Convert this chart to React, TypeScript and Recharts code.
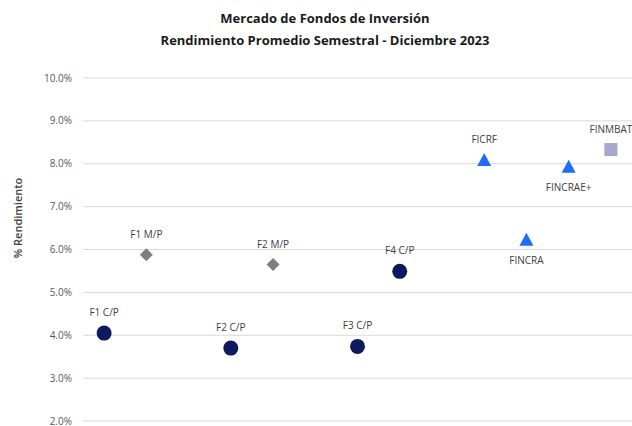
import React from 'react';
import { ScatterChart, Scatter, XAxis, YAxis, CartesianGrid } from 'recharts';

const circleNames = ['F1 C/P', 'F2 C/P', 'F3 C/P', 'F4 C/P'];
const circleX = [1, 4, 7, 8];
const circleY = [4.05, 3.7, 3.74, 5.49];

const diamondNames = ['F1 M/P', 'F2 M/P'];
const diamondX = [2, 5];
const diamondY = [5.88, 5.65];

const triangleNames = ['FICRF', 'FINCRA', 'FINCRAE+'];
const triangleX = [10, 11, 12];
const triangleY = [8.09, 6.23, 7.93];

const squareNames = ['FINMBAT'];
const squareX = [13];
const squareY = [8.33];

const labelsBelow = ['FINCRA', 'FINCRAE+'];
const yTicks = [2, 3, 4, 5, 6, 7, 8, 9, 10];

const build = (names: string[], xs: number[], ys: number[]) =>
  names.map((n, i) => ({ name: n, x: xs[i], y: ys[i] }));

const FONT = "'Open Sans', sans-serif";

const Lbl = ({ cx, cy, name }: any) => {
  const below = labelsBelow.includes(name);
  return (
    <text
      x={cx}
      y={below ? cy + 24 : cy - 17}
      textAnchor="middle"
      fontSize={10}
      fontFamily={FONT}
      fill="#404040"
    >
      {name}
    </text>
  );
};

const CircleShape = (p: any) => (
  <g>
    <circle cx={p.cx} cy={p.cy} r={7.5} fill="#0E1A5F" />
    <Lbl cx={p.cx} cy={p.cy} name={p.payload.name} />
  </g>
);
const DiamondShape = (p: any) => (
  <g>
    <polygon
      points={`${p.cx},${p.cy - 6.5} ${p.cx + 6.5},${p.cy} ${p.cx},${p.cy + 6.5} ${p.cx - 6.5},${p.cy}`}
      fill="#7F7F7F"
    />
    <Lbl cx={p.cx} cy={p.cy} name={p.payload.name} />
  </g>
);
const TriangleShape = (p: any) => (
  <g>
    <polygon
      points={`${p.cx},${p.cy - 7} ${p.cx + 7},${p.cy + 6} ${p.cx - 7},${p.cy + 6}`}
      fill="#1F6BFF"
    />
    <Lbl cx={p.cx} cy={p.cy} name={p.payload.name} />
  </g>
);
const SquareShape = (p: any) => (
  <g>
    <rect x={p.cx - 6.5} y={p.cy - 6.5} width={13} height={13} fill="#A5A7CC" />
    <Lbl cx={p.cx} cy={p.cy} name={p.payload.name} />
  </g>
);

export default function App() {
  return (
    <div style={{ position: 'absolute', top: 0, left: 0, width: 632, height: 426, overflow: 'hidden', background: '#fff' }}>
      <div
        style={{
          position: 'absolute',
          top: 7,
          left: 325 - 250,
          width: 500,
          textAlign: 'center',
          fontFamily: FONT,
          fontWeight: 700,
          fontSize: 13,
          lineHeight: '22px',
          color: '#1a1a1a',
        }}
      >
        <div>Mercado de Fondos de Inversión</div>
        <div>Rendimiento Promedio Semestral - Diciembre 2023</div>
      </div>
      <div
        style={{
          position: 'absolute',
          left: 17,
          top: 218,
          transform: 'translate(-50%, -50%) rotate(-90deg)',
          whiteSpace: 'nowrap',
          fontFamily: FONT,
          fontSize: 11,
          fontWeight: 600,
          color: '#404040',
        }}
      >
        % Rendimiento
      </div>
      <div style={{ position: 'absolute', top: 0, left: 0 }}>
        <ScatterChart width={632} height={426} margin={{ top: 78, right: 0, bottom: 5, left: 0 }}>
          <CartesianGrid horizontal vertical={false} stroke="#D9D9D9" strokeWidth={1} />
          <XAxis type="number" dataKey="x" domain={[0.5, 13.5]} hide />
          <YAxis
            type="number"
            dataKey="y"
            domain={[2, 10]}
            ticks={yTicks}
            interval={0}
            width={83}
            axisLine={false}
            tickLine={false}
            tickSize={0}
            tickMargin={11}
            tickFormatter={(v: number) => `${v.toFixed(1)}%`}
            tick={{ fontSize: 10, fontFamily: FONT, fill: '#595959' }}
          />
          <Scatter data={build(circleNames, circleX, circleY)} shape={CircleShape} isAnimationActive={false} />
          <Scatter data={build(diamondNames, diamondX, diamondY)} shape={DiamondShape} isAnimationActive={false} />
          <Scatter data={build(triangleNames, triangleX, triangleY)} shape={TriangleShape} isAnimationActive={false} />
          <Scatter data={build(squareNames, squareX, squareY)} shape={SquareShape} isAnimationActive={false} />
        </ScatterChart>
      </div>
    </div>
  );
}
